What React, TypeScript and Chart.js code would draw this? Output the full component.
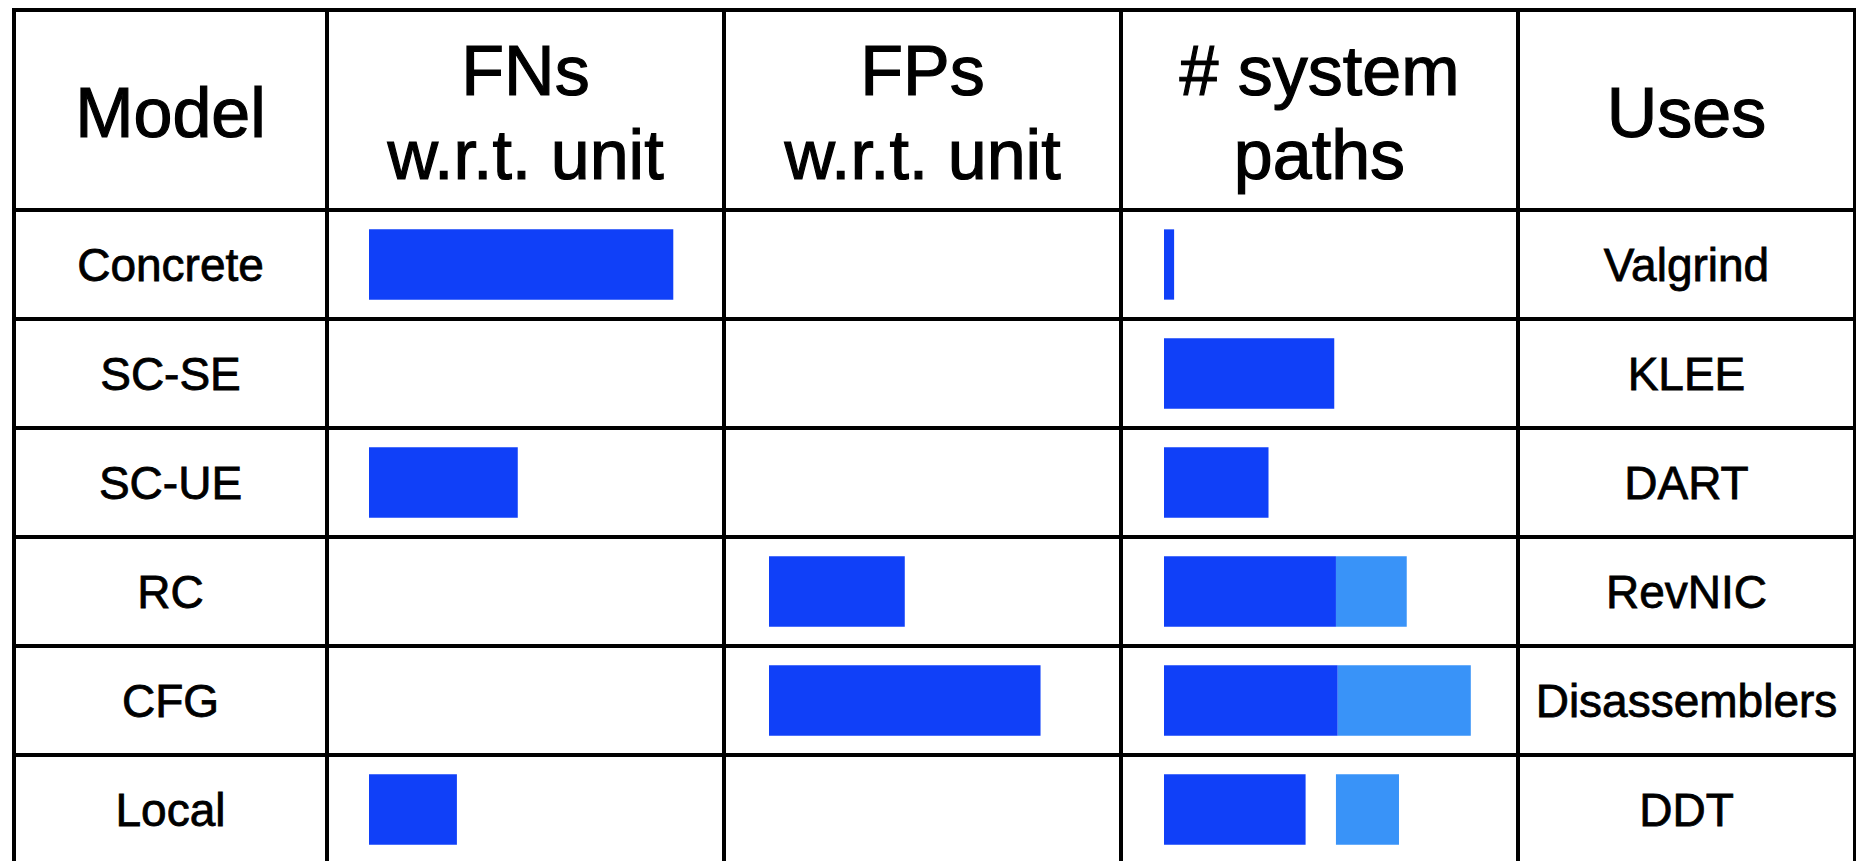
import React, { useEffect, useRef } from "react";
import { Chart, registerables } from "chart.js";

Chart.register(...registerables);

// ---- data ----
const headers = ["Model", "FNs\nw.r.t. unit", "FPs\nw.r.t. unit", "# system\npaths", "Uses"];
const models = ["Concrete", "SC-SE", "SC-UE", "RC", "CFG", "Local"];
const uses = ["Valgrind", "KLEE", "DART", "RevNIC", "Disassemblers", "DDT"];
const fnValues: (number | null)[] = [9.0, null, 4.4, null, null, 2.6];
const fpValues: (number | null)[] = [null, null, null, 4.05, 8.1, null];
const pathsDark: (number | null)[] = [0.3, 5.05, 3.1, 5.1, 5.15, 4.2];
const pathsLight: ([number, number] | null)[] = [null, null, null, [5.1, 7.2], [5.15, 9.1], [5.1, 6.97]];

// ---- layout / style ----
const W = 1856;
const H = 861;
const COL_X = [14, 327, 724, 1121, 1518, 1855];
const TOP_Y = 10;
const HEAD_BOTTOM = 210;
const ROW_H = 109;
const LINE_W = 4;
const DARK = "#1040F8";
const LIGHT = "#3993F8";
const X_MAX = 10.5;
const FONT = '"Liberation Sans", Arial, Helvetica, sans-serif';

type DS = { data: any[]; color: string };

function BarColumn({ col, pad, series }: { col: number; pad: number; series: DS[] }) {
  const ref = useRef<HTMLCanvasElement | null>(null);
  const width = COL_X[col + 1] - COL_X[col];
  const height = ROW_H * models.length;
  useEffect(() => {
    if (!ref.current) return;
    const chart = new Chart(ref.current, {
      type: "bar",
      data: {
        labels: models,
        datasets: series.map((s) => ({
          data: s.data,
          backgroundColor: s.color,
          borderWidth: 0,
          grouped: false,
          categoryPercentage: 1,
          barPercentage: 0.645,
        })) as any,
      },
      options: {
        indexAxis: "y",
        animation: false,
        responsive: false,
        events: [],
        layout: { padding: { left: pad, right: 0, top: 0, bottom: 0 } },
        scales: {
          x: { display: false, min: 0, max: X_MAX },
          y: { display: false, offset: true },
        },
        plugins: { legend: { display: false }, tooltip: { enabled: false } },
      } as any,
    });
    return () => chart.destroy();
  }, []);
  return (
    <canvas
      ref={ref}
      width={width}
      height={height}
      style={{ position: "absolute", left: COL_X[col], top: HEAD_BOTTOM, width, height }}
    />
  );
}

export default function App() {
  const rowLines: number[] = [TOP_Y, HEAD_BOTTOM];
  for (let i = 1; i <= models.length; i++) rowLines.push(HEAD_BOTTOM + ROW_H * i);

  const cell = (
    left: number,
    top: number,
    w: number,
    h: number,
    text: string,
    size: number,
    key: string,
    stroke: number,
    lh?: number
  ) => (
    <div
      key={key}
      style={{
        position: "absolute",
        left,
        top,
        width: w,
        height: h,
        display: "flex",
        alignItems: "center",
        justifyContent: "center",
        textAlign: "center",
        whiteSpace: "pre-line",
        fontSize: size,
        lineHeight: lh ? lh + "px" : "normal",
        color: "#000",
        fontFamily: FONT,
        WebkitTextStroke: stroke + "px #000",
      } as any}
    >
      {text}
    </div>
  );

  return (
    <div
      style={{
        position: "fixed",
        left: 0,
        top: 0,
        width: W,
        height: H,
        overflow: "hidden",
        background: "#fff",
      }}
    >
      {headers.map((h, i) =>
        cell(COL_X[i], TOP_Y + 3, COL_X[i + 1] - COL_X[i], HEAD_BOTTOM - TOP_Y, h, 70, "h" + i, 1.2, 84)
      )}
      {models.map((m, r) =>
        cell(COL_X[0], HEAD_BOTTOM + ROW_H * r, COL_X[1] - COL_X[0], ROW_H, m, 46, "m" + r, 0.8)
      )}
      {uses.map((u, r) =>
        cell(COL_X[4], HEAD_BOTTOM + ROW_H * r, COL_X[5] - COL_X[4], ROW_H, u, 46, "u" + r, 0.8)
      )}

      <BarColumn col={1} pad={42} series={[{ data: fnValues, color: DARK }]} />
      <BarColumn col={2} pad={45} series={[{ data: fpValues, color: DARK }]} />
      <BarColumn
        col={3}
        pad={43}
        series={[
          { data: pathsDark, color: DARK },
          { data: pathsLight, color: LIGHT },
        ]}
      />

      {COL_X.map((x, i) => (
        <div
          key={"v" + i}
          style={{
            position: "absolute",
            left: x - LINE_W / 2,
            top: TOP_Y - LINE_W / 2,
            width: LINE_W,
            height: H,
            background: "#000",
          }}
        />
      ))}
      {rowLines.map((y, i) => (
        <div
          key={"r" + i}
          style={{
            position: "absolute",
            left: COL_X[0] - LINE_W / 2,
            top: y - LINE_W / 2,
            width: COL_X[COL_X.length - 1] - COL_X[0] + LINE_W,
            height: LINE_W,
            background: "#000",
          }}
        />
      ))}
    </div>
  );
}
